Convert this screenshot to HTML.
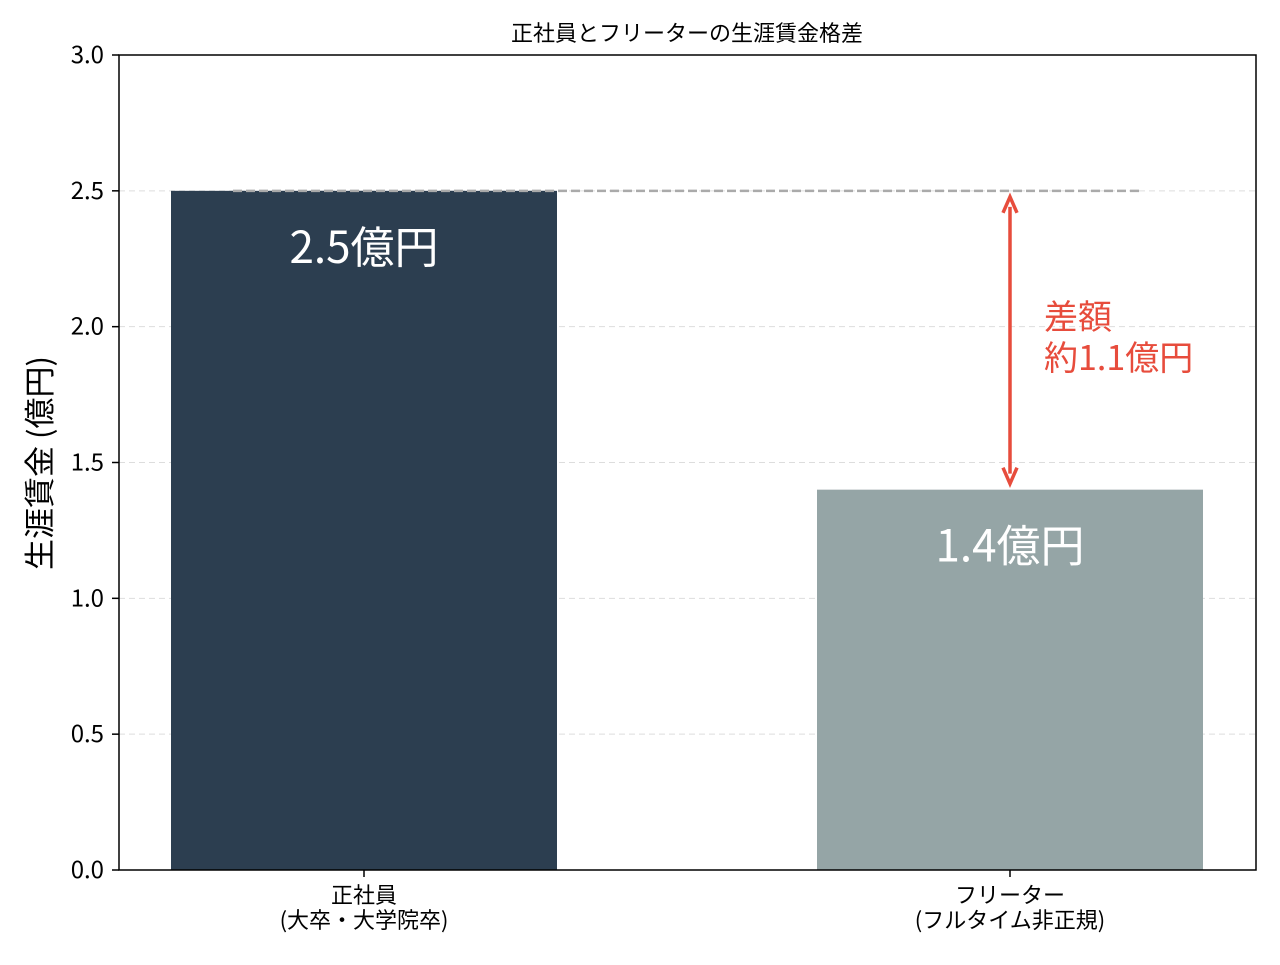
<!DOCTYPE html>
<html><head><meta charset="utf-8"><style>
body{margin:0;background:#fff;}
svg text{font-family:"Noto Sans CJK JP","Liberation Sans",sans-serif;}
</style></head><body>
<svg width="1280" height="960" xmlns="http://www.w3.org/2000/svg" id="c">
<rect x="0" y="0" width="1280" height="960" fill="#fff"/>
<text x="687" y="41" font-size="22" text-anchor="middle" fill="#000">正社員とフリーターの生涯賃金格差</text>
<g id="grid"></g>
<g id="bars"></g>
<g id="ann"></g>
<rect x="119" y="55" width="1137" height="815" fill="none" stroke="#000" stroke-width="1.5"/>
<g id="axes"></g>
<text transform="translate(51,463) rotate(-90)" font-size="31" text-anchor="middle" fill="#000">生涯賃金 (億円)</text>
</svg>
<script>
const categories=["正社員|(大卒・大学院卒)","フリーター|(フルタイム非正規)"];
const values=[2.5,1.4];
const valueLabels=["2.5億円","1.4億円"];
const yTicks=[0,0.5,1.0,1.5,2.0,2.5,3.0];
const colors=["#2c3e50","#95a5a6"];
const NS="http://www.w3.org/2000/svg";
function y(v){return 870-v*(815/3);}
function x(i){return 364+i*646;}
const bw=386;
function mk(tag,attrs,parent,txt){const e=document.createElementNS(NS,tag);for(const k in attrs)e.setAttribute(k,attrs[k]);if(txt!==undefined)e.textContent=txt;document.getElementById(parent).appendChild(e);return e;}
yTicks.forEach(t=>{
  if(t>0&&t<3){const g=mk('line',{x1:119,x2:1256,y1:y(t),y2:y(t),stroke:'#ddd','stroke-dasharray':'6,4','stroke-width':1},'grid');
  
  }
  const tk=mk('line',{x1:112,x2:119,y1:y(t),y2:y(t),stroke:'#000','stroke-width':1.5},'axes');
  
  
  const tl=mk('text',{x:104,y:y(t)+8,'font-size':24,'text-anchor':'end',fill:'#000'},'axes',t.toFixed(1));
  
  
});
values.forEach((v,i)=>{
  const r=mk('rect',{x:x(i)-bw/2,y:y(v),width:bw,height:870-y(v),fill:colors[i]},'bars');
  
  
  const t=mk('text',{x:x(i),y:y(v)+72,'font-size':44,'text-anchor':'middle',fill:'#fff'},'bars',valueLabels[i]);
  
  
  const tk=mk('line',{x1:x(i),x2:x(i),y1:870,y2:877,stroke:'#000','stroke-width':1.5},'axes');
  
  
  const parts=categories[i].split('|');
  parts.forEach((p,j)=>{
    const l=mk('text',{x:x(i),y:903+j*25,'font-size':22,'text-anchor':'middle',fill:'#000'},'axes',p);
    
    
  });
});
const d=mk('line',{x1:233,x2:1143,y1:y(values[0]),y2:y(values[0]),stroke:'#aaa','stroke-width':2.5,'stroke-dasharray':'9,4'},'ann');


const ay1=y(values[0])+6, ay2=y(values[1])-6, ax=x(1);
const a=mk('line',{x1:ax,x2:ax,y1:ay1+10,y2:ay2-10,stroke:'#e74c3c','stroke-width':3.5},'ann');


const h1=mk('path',{d:`M${ax-7},${ay1+16} L${ax},${ay1} L${ax+7},${ay1+16}`,fill:'none',stroke:'#e74c3c','stroke-width':3.5},'ann');


const h2=mk('path',{d:`M${ax-7},${ay2-16} L${ax},${ay2} L${ax+7},${ay2-16}`,fill:'none',stroke:'#e74c3c','stroke-width':3.5},'ann');


const diff=(values[0]-values[1]).toFixed(1);
const t1=mk('text',{x:1044,y:329,'font-size':34,fill:'#e74c3c'},'ann','差額');


const t2=mk('text',{x:1044,y:370,'font-size':34,fill:'#e74c3c'},'ann','約'+diff+'億円');


</script>
</body></html>
